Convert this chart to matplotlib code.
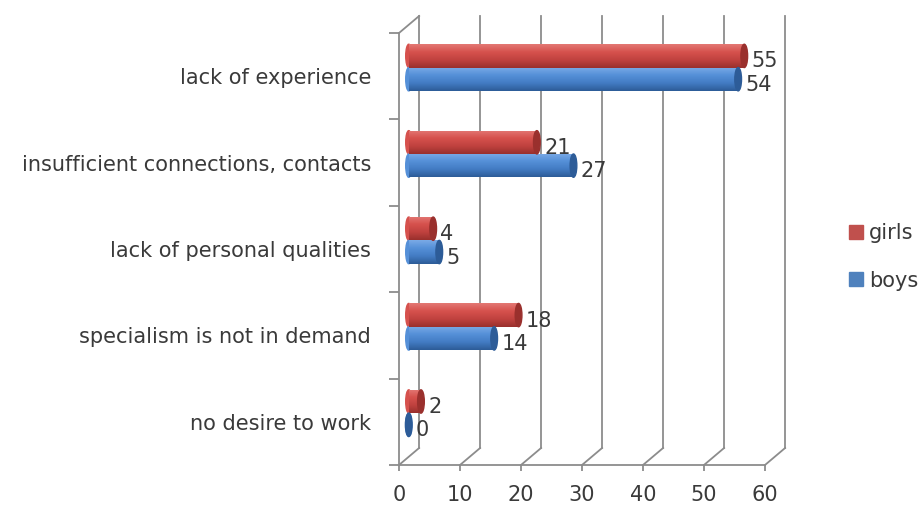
import numpy as np
import matplotlib
matplotlib.use('Agg')
import matplotlib.pyplot as plt
from matplotlib.patches import Ellipse, Patch
from matplotlib.colors import LinearSegmentedColormap

plt.rcParams['font.family'] = ['DejaVu Sans']

# Data (bottom to top as drawn)
categories = ['no desire to work', 'specialism is not in demand', 'lack of personal qualities',
              'insufficient connections, contacts', 'lack of experience']
girls = [2, 18, 4, 21, 55]
boys = [0, 14, 5, 27, 54]
xticks = [0, 10, 20, 30, 40, 50, 60]

fs = 15
textcol = '#3a3a3a'
gridcol = '#8c8c8c'
red = '#C0504D'
blue = '#4F81BD'
red_grad = ['#e37873', '#d6514d', '#c0423f', '#9a302d']
blue_grad = ['#7aaae6', '#5590d8', '#437cc4', '#2d5c98']

fig = plt.figure(figsize=(9.21, 5.07), dpi=100)
ax = fig.add_axes([399/921, (507-465)/507, (765-399)/921, (465-33)/507])
ax.set_xlim(0, 60)
ax.set_ylim(-0.5, 4.5)

# 3D offsets (data units) of the mid plane and back wall
dxm, dym = 1.6, 0.1
dxb, dyb = 3.3, 0.197

# frame: back wall grid, floor and left wall
for v in xticks:
    ax.plot([v + dxb, v + dxb], [-0.5 + dyb, 4.5 + dyb], color=gridcol, lw=1.3, clip_on=False, zorder=1)
    ax.plot([v, v + dxb], [-0.5, -0.5 + dyb], color=gridcol, lw=1.3, clip_on=False, zorder=1)
ax.plot([0, 60], [-0.5, -0.5], color=gridcol, lw=1.3, clip_on=False, zorder=1)
ax.plot([0, 0], [-0.5, 4.5], color=gridcol, lw=1.3, clip_on=False, zorder=1)
ax.plot([0, dxb], [4.5, 4.5 + dyb], color=gridcol, lw=1.3, clip_on=False, zorder=1)

y = np.arange(len(categories))
h = 0.27
yg = y + dym + h / 2
yb = y + dym - h / 2

def cylinder(vals, ypos, cols, label_dy):
    cmap = LinearSegmentedColormap.from_list('c', cols[::-1])
    bars = ax.barh(ypos, vals, height=h, left=dxm, color=cols[1], zorder=3)
    for b, v, yy in zip(bars, vals, ypos):
        grad = np.linspace(0, 1, 50).reshape(-1, 1)
        # left rounded end
        ax.add_patch(Ellipse((dxm, yy), 1.0, h, color=cols[1], zorder=2.9))
        im = ax.imshow(grad, extent=(dxm, dxm + v, yy - h / 2, yy + h / 2), origin='lower',
                       cmap=cmap, aspect='auto', zorder=3.1)
        im.set_clip_path(b)
        # right end cap
        ax.add_patch(Ellipse((dxm + v, yy), 1.1, h, color=cols[3], zorder=3.2))
        ax.annotate(str(v), (dxm + v + 0.5, yy), xytext=(3, label_dy), textcoords='offset points',
                    va='center', ha='left', fontsize=fs, color=textcol, zorder=4)

cylinder(girls, yg, red_grad, -4)
cylinder(boys, yb, blue_grad, -4)

ax.set_xlim(0, 60)
ax.set_ylim(-0.5, 4.5)

for s in ax.spines.values():
    s.set_visible(False)
ax.set_xticks(xticks)
ax.set_yticks(y)
ax.set_yticklabels(categories)
ax.set_yticks(np.arange(-0.5, 5, 1), minor=True)
ax.tick_params(axis='y', which='major', length=0, pad=20, labelsize=fs, labelcolor=textcol)
ax.tick_params(axis='y', which='minor', length=7.2, width=1.3, color=gridcol)
ax.tick_params(axis='x', which='major', length=4.5, width=1.3, color=gridcol, pad=10,
               labelsize=fs, labelcolor=textcol)

handles = [Patch(color=red, label='girls'), Patch(color=blue, label='boys')]
fig.legend(handles=handles, loc='center left', bbox_to_anchor=(849/921, 1 - 257/507), frameon=False,
           fontsize=fs, handlelength=0.65, handleheight=0.65, handletextpad=0.3,
           labelspacing=1.3, labelcolor=textcol, borderpad=0, borderaxespad=0)

fig.savefig('out.png', dpi=100)
